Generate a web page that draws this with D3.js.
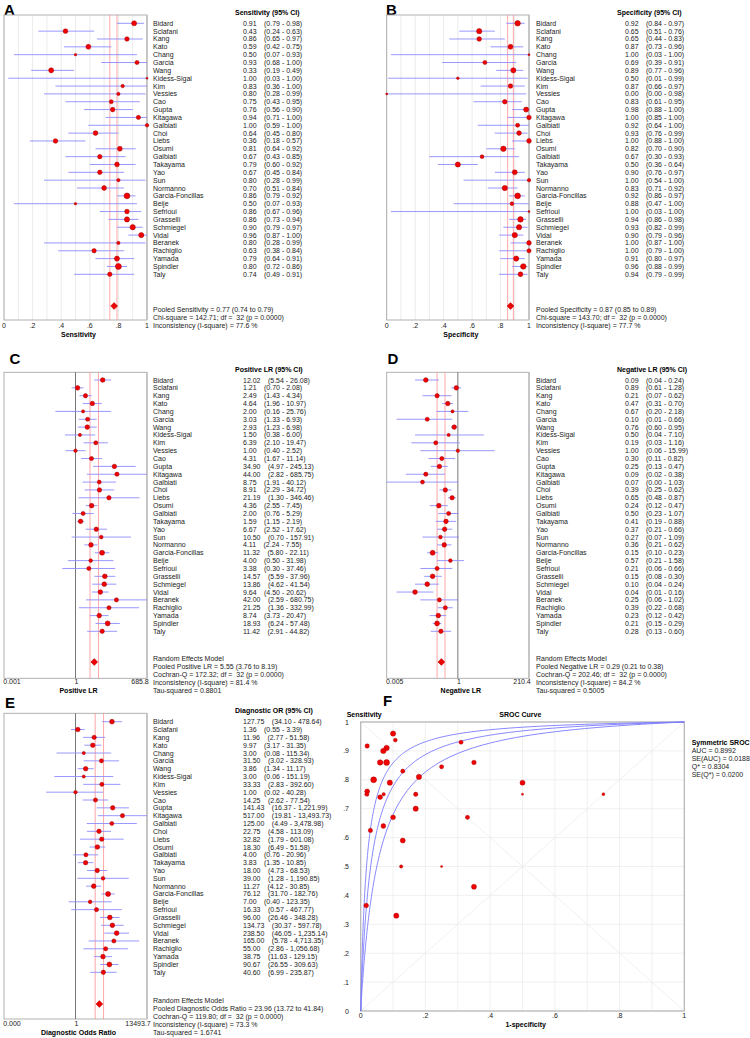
<!DOCTYPE html>
<html><head><meta charset="utf-8">
<script src="https://cdn.jsdelivr.net/npm/d3@7"></script>
<style>
html,body{margin:0;padding:0;background:#fff;}
svg{display:block;font-family:"Liberation Sans",Arial,sans-serif;}
text{white-space:pre;}
</style></head><body>
<svg id="chart" width="750" height="1038"></svg>
<script>
// ---------------- DATA ----------------
const studies = ["Bidard","Sclafani","Kang","Kato","Chang","Garcia","Wang","Kidess-Sigal","Kim","Vessies","Cao","Gupta","Kitagawa","Galbiati","Choi","Liebs","Osumi","Galbiati","Takayama","Yao","Sun","Normanno","Garcia-Foncillas","Beije","Sefrioui","Grasselli","Schmiegel","Vidal","Beranek","Rachiglio","Yamada","Spindler","Taly"];

// estimated group sizes (diseased / non-diseased) used for symbol size
const diseasedN = [43,28,21,39,2,15,42,1,6,5,12,25,17,7,33,25,36,21,29,24,5,33,120,2,28,50,58,50,5,19,43,140,19];
const healthyN  = [77,55,26,39,1,13,47,2,23,1,23,44,23,13,28,28,67,9,50,40,6,58,110,8,1,80,57,60,26,16,56,79,34];

const sens   = [0.91,0.43,0.86,0.59,0.50,0.93,0.33,1.00,0.83,0.80,0.75,0.76,0.94,1.00,0.64,0.36,0.81,0.67,0.79,0.67,0.80,0.70,0.86,0.50,0.86,0.86,0.90,0.96,0.80,0.63,0.79,0.80,0.74];
const sensLo = [0.79,0.24,0.65,0.42,0.07,0.68,0.19,0.03,0.36,0.28,0.43,0.56,0.71,0.59,0.45,0.18,0.64,0.43,0.60,0.45,0.28,0.51,0.79,0.07,0.67,0.73,0.79,0.87,0.28,0.38,0.64,0.72,0.49];
const sensHi = [0.98,0.63,0.97,0.75,0.93,1.00,0.49,1.00,1.00,0.99,0.95,0.90,1.00,1.00,0.80,0.57,0.92,0.85,0.92,0.84,0.99,0.84,0.92,0.93,0.96,0.94,0.97,1.00,0.99,0.84,0.91,0.86,0.91];
const sensPooled = [0.77,0.74,0.79];
const sensStats = [142.71,32,0.0000,77.6];

const spec   = [0.92,0.65,0.65,0.87,1.00,0.69,0.89,0.50,0.87,0.00,0.83,0.98,1.00,0.92,0.93,1.00,0.82,0.67,0.50,0.90,1.00,0.83,0.92,0.88,1.00,0.94,0.93,0.90,1.00,1.00,0.91,0.96,0.94];
const specLo = [0.84,0.51,0.44,0.73,0.03,0.39,0.77,0.01,0.66,0.00,0.61,0.88,0.85,0.64,0.76,0.88,0.70,0.30,0.36,0.76,0.54,0.71,0.86,0.47,0.03,0.86,0.82,0.79,0.87,0.79,0.80,0.88,0.79];
const specHi = [0.97,0.76,0.83,0.96,1.00,0.91,0.96,0.99,0.97,0.98,0.95,1.00,1.00,1.00,0.99,1.00,0.90,0.93,0.64,0.97,1.00,0.92,0.97,1.00,1.00,0.98,0.99,0.96,1.00,1.00,0.97,0.99,0.99];
const specPooled = [0.87,0.85,0.89];
const specStats = [143.70,32,0.0000,77.7];

const plr   = [12.02,1.21,2.49,4.64,2.00,3.03,2.93,1.50,6.39,1.00,4.31,34.90,44.00,8.75,8.91,21.19,4.36,2.00,1.59,6.67,10.50,4.11,11.32,4.00,3.38,14.57,13.86,9.64,42.00,21.25,8.74,18.93,11.42];
const plrLo = [5.54,0.70,1.43,1.96,0.16,1.33,1.23,0.38,2.10,0.40,1.67,4.97,2.82,1.91,2.29,1.30,2.55,0.76,1.15,2.52,0.70,2.24,5.80,0.50,0.30,5.59,4.62,4.50,2.59,1.36,3.73,6.24,2.91];
const plrHi = [26.08,2.08,4.34,10.97,25.76,6.93,6.98,6.00,19.47,2.52,11.14,245.13,685.75,40.12,34.72,346.46,7.45,5.29,2.19,17.62,157.91,7.55,22.11,31.98,37.46,37.96,41.54,20.62,680.75,332.99,20.47,57.48,44.82];
const plrPooled = [5.55,3.76,8.19];
const plrStats = [172.32,32,0.0000,81.4,0.8801];
const plrAxisMax = 685.8;
const plrTickLabels = ["0.001","1","685.8"];

const nlr   = [0.09,0.89,0.21,0.47,0.67,0.10,0.76,0.50,0.19,1.00,0.30,0.25,0.09,0.07,0.39,0.65,0.24,0.50,0.41,0.37,0.27,0.36,0.15,0.57,0.21,0.15,0.10,0.04,0.25,0.39,0.23,0.21,0.28];
const nlrLo = [0.04,0.61,0.07,0.31,0.20,0.01,0.60,0.04,0.03,0.06,0.11,0.13,0.02,0.00,0.25,0.48,0.12,0.23,0.19,0.21,0.07,0.21,0.10,0.21,0.06,0.08,0.04,0.01,0.06,0.22,0.12,0.15,0.13];
const nlrHi = [0.24,1.28,0.62,0.70,2.18,0.66,0.95,7.10,1.16,15.99,0.82,0.47,0.38,1.03,0.62,0.87,0.47,1.07,0.88,0.66,1.09,0.62,0.23,1.58,0.66,0.30,0.24,0.16,1.02,0.68,0.42,0.29,0.60];
const nlrPooled = [0.29,0.21,0.38];
const nlrStats = [202.46,32,0.0000,84.2,0.5005];
const nlrAxisMax = 210.4;
const nlrTickLabels = ["0.005","1","210.4"];

const dor   = [127.75,1.36,11.96,9.97,3.00,31.50,3.86,3.00,33.33,1.00,14.25,141.43,517.00,125.00,22.75,32.82,18.30,4.00,3.83,18.00,39.00,11.27,76.12,7.00,16.33,96.00,134.73,238.50,165.00,55.00,38.75,90.67,40.60];
const dorLo = [34.10,0.55,2.77,3.17,0.08,3.02,1.34,0.06,2.83,0.02,2.62,16.37,19.81,4.49,4.58,1.79,6.49,0.76,1.35,4.73,1.28,4.12,31.70,0.40,0.57,26.46,30.37,46.05,5.78,2.86,11.63,26.55,6.99];
const dorHi = [478.64,3.39,51.58,31.35,115.34,328.93,11.17,151.19,392.60,40.28,77.54,1221.99,13493.73,3478.98,113.09,601.08,51.58,20.96,10.85,68.53,1190.85,30.85,182.76,123.35,467.77,348.28,597.78,1235.14,4713.35,1056.68,129.15,309.63,235.87];
const dorPooled = [23.96,13.72,41.84];
const dorStats = [119.80,32,0.0000,73.3,1.6741];
const dorAxisMax = 13493.7;
const dorTickLabels = ["0.000","1","13493.7"];

// SROC scatter (1-specificity, sensitivity; with 0.5 correction where cells are zero)
const srocFpr  = [0.08,0.35,0.35,0.13,0.25,0.31,0.11,0.50,0.13,0.75,0.17,0.02,0.02,0.107,0.07,0.017,0.18,0.33,0.50,0.10,0.071,0.17,0.08,0.125,0.25,0.06,0.07,0.10,0.019,0.03,0.09,0.04,0.06];
const srocSens = [0.91,0.43,0.86,0.59,0.50,0.93,0.33,0.75,0.83,0.75,0.75,0.76,0.917,0.9375,0.64,0.365,0.81,0.67,0.79,0.67,0.75,0.70,0.86,0.50,0.845,0.86,0.90,0.96,0.75,0.625,0.79,0.80,0.74];
// log diagnostic odds ratio intercepts of the drawn curves (upper band, SROC, lower band)
const srocIntercepts = [4.0,3.45,2.95];
const srocTicks = [0,0.1,0.2,0.3,0.4,0.5,0.6,0.7,0.8,0.9,1];
const srocYTickLabels = ["0",".1",".2",".3",".4",".5",".6",".7",".8",".9","1"];
const srocXTicks = [0,0.2,0.4,0.6,0.8,1];
const srocXTickLabels = ["0",".2",".4",".6",".8","1"];
const srocLegend = ["AUC = 0.8992","SE(AUC) = 0.0188","Q* = 0.8304","SE(Q*) = 0.0200"];

const propTicks = [0,0.2,0.4,0.6,0.8,1];
const propTickLabels = ["0",".2",".4",".6",".8","1"];
const propGrid = d3.range(0,1.0001,0.1);

// ---------------- DRAW ----------------
const svg = d3.select("#chart");
svg.append("rect").attr("width",750).attr("height",1038).attr("fill","#fff");
const FS = 7;
const CI_COL = "#8c8cff", DOT_FILL = "#f00000", DOT_STROKE = "#a00000", POOL_COL = "#ff9090";
const totalN = diseasedN.map((d,i)=>d+healthyN[i]);
const f2 = d3.format(".2f"), fc2 = d3.format(",.2f"), f4 = d3.format(".4f"), f1 = d3.format(".1f");

function letter(txt,x,y){
  svg.append("text").attr("x",x).attr("y",y).attr("font-size",15).attr("font-weight","bold").text(txt);
}

function forest(o){
  const g = svg.append("g");
  const [bx0,bx1,by0,by1] = o.box;
  const x = (o.log ? d3.scaleLog() : d3.scaleLinear()).domain(o.domain).range([bx0,bx1]).clamp(true);
  const y = d3.scalePoint().domain(d3.range(studies.length)).range(o.rows);
  const sx = v => x(Math.max(v, o.domain[0]));
  const r = d3.scaleLog().domain(o.rDomain).range(o.rRange).clamp(true);

  if (o.grid) g.selectAll("line.grid").data(o.grid).join("line")
    .attr("x1",d=>x(d)).attr("x2",d=>x(d)).attr("y1",by0).attr("y2",by1)
    .attr("stroke","#e6e6e6").attr("stroke-width",0.8);
  // box
  g.append("rect").attr("x",bx0).attr("y",by0).attr("width",bx1-bx0).attr("height",by1-by0)
    .attr("fill","none").attr("stroke","#a8a8a8").attr("stroke-width",0.9);
  g.append("line").attr("x1",bx1).attr("x2",bx1).attr("y1",by0).attr("y2",by1)
    .attr("stroke","#c4c4c4").attr("stroke-width",1.8);
  if (o.ref) g.append("line").attr("x1",x(1)).attr("x2",x(1)).attr("y1",by0).attr("y2",by1)
    .attr("stroke","#555").attr("stroke-width",0.8);
  // pooled CI lines
  g.selectAll("line.pool").data([o.pooled[1],o.pooled[2]]).join("line")
    .attr("x1",d=>x(d)).attr("x2",d=>x(d)).attr("y1",by0).attr("y2",by1)
    .attr("stroke",POOL_COL).attr("stroke-width",0.8);
  // CI lines
  g.selectAll("line.ci").data(d3.range(studies.length)).join("line")
    .attr("x1",i=>sx(o.lo[i])).attr("x2",i=>sx(o.hi[i])).attr("y1",i=>y(i)).attr("y2",i=>y(i))
    .attr("stroke",CI_COL).attr("stroke-width",0.9);
  // dots
  g.selectAll("circle").data(d3.range(studies.length)).join("circle")
    .attr("cx",i=>sx(o.est[i])).attr("cy",i=>y(i)).attr("r",i=>r(o.n[i]))
    .attr("fill",DOT_FILL).attr("stroke",DOT_STROKE).attr("stroke-width",0.5);
  // pooled diamond
  g.append("path").attr("d",d3.symbol().type(d3.symbolDiamond2).size(30)())
    .attr("transform",`translate(${x(o.pooled[0])},${o.diamondY})`)
    .attr("fill",DOT_FILL).attr("stroke",DOT_STROKE).attr("stroke-width",0.5);
  // header
  g.append("text").attr("x",o.headerX).attr("y",o.headerY).attr("font-size",FS).attr("font-weight","bold").text(o.header);
  // names
  g.selectAll("text.name").data(d3.range(studies.length)).join("text").attr("class","name")
    .attr("x",o.nameX).attr("y",i=>y(i)+2.5).attr("font-size",FS).attr("fill","#222").text(i=>studies[i]);
  const vt = g.selectAll("text.val").data(d3.range(studies.length)).join("text").attr("class","val")
    .attr("x",o.valX).attr("y",i=>y(i)+2.5).attr("font-size",FS).attr("fill","#222");
  vt.append("tspan").text(i=>o.fmt(o.est[i]));
  vt.append("tspan").attr("dx",7.4).text(i=>"(" + o.fmt(o.lo[i]) + " - " + o.fmt(o.hi[i]) + ")");
  // footer
  g.selectAll("text.foot").data(o.footer).join("text").attr("class","foot")
    .attr("x",o.nameX).attr("y",(d,i)=>o.footY+i*8).attr("font-size",FS).attr("fill","#222").text(d=>d);
  // tick labels
  g.selectAll("text.tick").data(o.ticks).join("text").attr("class","tick")
    .attr("x",(d,i)=>x(d)+(o.tickDx?o.tickDx[i]:0)).attr("y",o.tickY).attr("text-anchor","middle")
    .attr("font-size",FS).attr("fill","#222").text((d,i)=>o.tickLabels[i]);
  g.append("text").attr("x",(bx0+bx1)/2+3).attr("y",o.axisY).attr("text-anchor","middle")
    .attr("font-size",FS).attr("font-weight","bold").text(o.axisLabel);
}

const statsTxt = s => `Chi-square = ${f2(s[0])}; df =  ${s[1]} (p = ${f4(s[2])})`;
const qTxt = s => `Cochran-Q = ${f2(s[0])}; df =  ${s[1]} (p = ${f4(s[2])})`;
const iTxt = s => `Inconsistency (I-square) = ${f1(s[3])} %`;
const ciTxt = p => `${f2(p[0])} (${f2(p[1])} to ${f2(p[2])})`;

// A
letter("A",4,15.3);
forest({box:[4,147,15,320], rows:[23.3,274.3], domain:[0,1], est:sens, lo:sensLo, hi:sensHi, n:diseasedN,
  rDomain:[1,140], rRange:[1,3], pooled:sensPooled, diamondY:306, grid:propGrid,
  header:"Sensitivity (95% CI)", headerX:235, headerY:14.5, nameX:153, valX:243, fmt:f2,
  footer:["Pooled Sensitivity = "+ciTxt(sensPooled), statsTxt(sensStats), iTxt(sensStats)], footY:311.8,
  ticks:propTicks, tickLabels:propTickLabels, tickY:328.2, axisLabel:"Sensitivity", axisY:336.5});
// B
letter("B",386,15.3);
forest({box:[386.7,529,15,320], rows:[23.3,274.3], domain:[0,1], est:spec, lo:specLo, hi:specHi, n:healthyN,
  rDomain:[1,140], rRange:[1,3], pooled:specPooled, diamondY:306, grid:propGrid,
  header:"Specificity (95% CI)", headerX:617, headerY:14.5, nameX:536, valX:625, fmt:f2,
  footer:["Pooled Specificity = "+ciTxt(specPooled), statsTxt(specStats), iTxt(specStats)], footY:311.8,
  ticks:propTicks, tickLabels:propTickLabels, tickY:328.2, axisLabel:"Specificity", axisY:336.5});
// C
letter("C",9.5,364.3);
forest({box:[4,147,372.3,678.3], rows:[380,631.3], log:true, domain:[1/plrAxisMax,plrAxisMax], ref:true,
  est:plr, lo:plrLo, hi:plrHi, n:totalN, rDomain:[3,230], rRange:[1.6,2.5], pooled:plrPooled, diamondY:662,
  header:"Positive LR (95% CI)", headerX:235, headerY:371.5, nameX:153, valX:243, fmt:f2,
  footer:["Random Effects Model","Pooled Positive LR = "+ciTxt(plrPooled), qTxt(plrStats), iTxt(plrStats), "Tau-squared = "+f4(plrStats[4])], footY:660.8,
  ticks:[1/plrAxisMax,1,plrAxisMax], tickLabels:plrTickLabels, tickDx:[8,1,-7], tickY:684.2, axisLabel:"Positive LR", axisY:692.5});
// D
letter("D",387.5,364.3);
forest({box:[386.7,529,372.3,678.3], rows:[380,631.3], log:true, domain:[1/nlrAxisMax,nlrAxisMax], ref:true,
  est:nlr, lo:nlrLo, hi:nlrHi, n:totalN, rDomain:[3,230], rRange:[1.6,2.5], pooled:nlrPooled, diamondY:662,
  header:"Negative LR (95% CI)", headerX:617, headerY:371.5, nameX:536, valX:625, fmt:f2,
  footer:["Random Effects Model","Pooled Negative LR = "+ciTxt(nlrPooled), qTxt(nlrStats), iTxt(nlrStats), "Tau-squared = "+f4(nlrStats[4])], footY:660.8,
  ticks:[1/nlrAxisMax,1,nlrAxisMax], tickLabels:nlrTickLabels, tickDx:[8,1,-7], tickY:684.2, axisLabel:"Negative LR", axisY:692.5});
// E
letter("E",5,707.5);
forest({box:[4,147,713.3,1019], rows:[721.7,972.3], log:true, domain:[1/dorAxisMax,dorAxisMax], ref:true,
  est:dor, lo:dorLo, hi:dorHi, n:totalN, rDomain:[3,230], rRange:[1.6,2.5], pooled:dorPooled, diamondY:1004,
  header:"Diagnostic OR (95% CI)", headerX:235, headerY:712.5, nameX:153, valX:243, fmt:fc2,
  footer:["Random Effects Model","Pooled Diagnostic Odds Ratio = "+ciTxt(dorPooled), qTxt(dorStats), iTxt(dorStats), "Tau-squared = "+f4(dorStats[4])], footY:1002.5,
  ticks:[1/dorAxisMax,1,dorAxisMax], tickLabels:dorTickLabels, tickDx:[8,1,-9], tickY:1025.8, axisLabel:"Diagnostic Odds Ratio", axisY:1034.8});

// F : SROC
(function(){
  const g = svg.append("g");
  const xS = d3.scaleLinear().domain([0,1]).range([360.7,684.3]);
  const yS = d3.scaleLinear().domain([0,1]).range([1011,722]);
  letter("F",383,706);
  g.selectAll("line.gx").data(srocTicks).join("line").attr("x1",d=>xS(d)).attr("x2",d=>xS(d))
    .attr("y1",yS(0)).attr("y2",yS(1)).attr("stroke","#ececec").attr("stroke-width",0.8);
  g.selectAll("line.gy").data(srocTicks).join("line").attr("y1",d=>yS(d)).attr("y2",d=>yS(d))
    .attr("x1",xS(0)).attr("x2",xS(1)).attr("stroke","#ececec").attr("stroke-width",0.8);
  g.append("line").attr("x1",xS(0)).attr("y1",yS(0)).attr("x2",xS(1)).attr("y2",yS(1)).attr("stroke","#ececec").attr("stroke-width",0.8);
  g.append("line").attr("x1",xS(0)).attr("y1",yS(1)).attr("x2",xS(1)).attr("y2",yS(0)).attr("stroke","#ececec").attr("stroke-width",0.8);
  g.append("rect").attr("x",xS(0)).attr("y",yS(1)).attr("width",xS(1)-xS(0)).attr("height",yS(0)-yS(1))
    .attr("fill","none").attr("stroke","#b4b4b4").attr("stroke-width",1.2);
  // curves
  const logit = p => Math.log(p/(1-p));
  const fprGrid = [0].concat(d3.range(-4.5, 0.0001, 0.02).map(e=>Math.pow(10,e)));
  const line = d3.line().x(d=>xS(d[0])).y(d=>yS(d[1]));
  g.selectAll("path.sroc").data(srocIntercepts).join("path").attr("class","sroc")
    .attr("d",a=>line(fprGrid.map(f => f<=0 ? [0,0] : (f>=1 ? [1,1] : [f, 1/(1+Math.exp(-(a+logit(f))))]))))
    .attr("fill","none").attr("stroke","#7a7aff").attr("stroke-width",0.9);
  // points
  const r = d3.scaleLog().domain([3,230]).range([1.1,3]).clamp(true);
  g.selectAll("circle").data(d3.range(studies.length)).join("circle")
    .attr("cx",i=>xS(srocFpr[i])).attr("cy",i=>yS(srocSens[i])).attr("r",i=>r(totalN[i]))
    .attr("fill",DOT_FILL).attr("stroke",DOT_STROKE).attr("stroke-width",0.4);
  // ticks labels
  g.selectAll("text.yt").data(srocTicks).join("text").attr("x",349).attr("y",d=>yS(d)+2.5)
    .attr("text-anchor","end").attr("font-size",FS).attr("fill","#222").text((d,i)=>srocYTickLabels[i]);
  g.selectAll("text.xt").data(srocXTicks).join("text").attr("x",d=>xS(d)).attr("y",1018.2)
    .attr("text-anchor","middle").attr("font-size",FS).attr("fill","#222").text((d,i)=>srocXTickLabels[i]);
  g.append("text").attr("x",346.7).attr("y",716.5).attr("font-size",FS).attr("font-weight","bold").text("Sensitivity");
  g.append("text").attr("x",520.3).attr("y",716.5).attr("text-anchor","middle").attr("font-size",FS).attr("font-weight","bold").text("SROC Curve");
  g.append("text").attr("x",525.7).attr("y",1026.5).attr("text-anchor","middle").attr("font-size",FS).attr("font-weight","bold").text("1-specificity");
  g.append("text").attr("x",691.7).attr("y",745.2).attr("font-size",FS).attr("font-weight","bold").text("Symmetric SROC");
  g.selectAll("text.leg").data(srocLegend).join("text").attr("x",691.7).attr("y",(d,i)=>753.2+i*8)
    .attr("font-size",FS).attr("fill","#222").text(d=>d);
})();
</script>
</body></html>
